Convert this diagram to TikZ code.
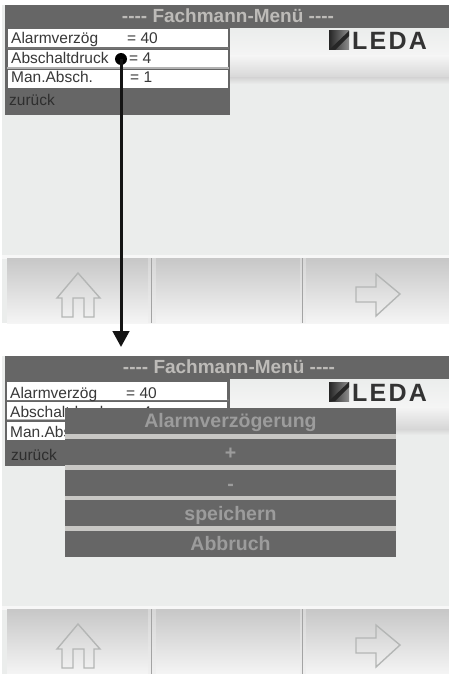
\documentclass[tikz,border=0pt]{standalone}
\usepackage{fontspec}
\setmainfont{Liberation Sans}
\usetikzlibrary{arrows.meta,calc}
\definecolor{bar}{HTML}{666666}
\definecolor{screen}{HTML}{EBEDEC}
\definecolor{titletxt}{HTML}{BDBBB8}
\definecolor{dlgtxt}{HTML}{9C9C9C}
\definecolor{sep}{HTML}{C8C7C4}
\definecolor{icon}{HTML}{B4B6B5}
\tikzset{
  x=1pt,y=-1pt,
  lbl/.style={inner sep=0pt,anchor=base west,font=\fontsize{15.5}{15.5}\selectfont,text=black!78},
  titlelbl/.style={inner sep=0pt,anchor=base,font=\bfseries\fontsize{19}{19}\selectfont,text=titletxt},
  dlgrow/.style={inner sep=0pt,anchor=north west,minimum width=331pt,minimum height=26pt,fill=bar},
  dlglbl/.style={inner sep=0pt,anchor=base,font=\bfseries\fontsize{19.5}{19.5}\selectfont,text=dlgtxt},
  whiterow/.style={inner sep=0pt,anchor=north west,minimum width=220pt,minimum height=18pt,fill=white},
  iconline/.style={draw=icon,line width=1.4pt,line join=miter,fill=none},
  conn/.style={draw=black!92,line width=3pt},
}
\newcommand{\screenbg}[1]{%
  \begin{scope}[yshift=-#1pt]
    \fill[screen] (2,5) rectangle (449,323);
    % upper band behind the logo
    \shade[top color=screen,bottom color=white!96!black] (7,28) rectangle (449,56);
    \shade[top color=white!96!black,bottom color=black!16] (7,56) rectangle (449,78);
    \shade[top color=black!16,bottom color=screen] (7,78) rectangle (449,84);
    % footer
    \fill[white!97!black] (2,255) rectangle (449,259);
    \shade[top color=black!22,bottom color=black!4] (7,258) rectangle (449,323);
    \fill[white!92!black,opacity=.45] (148,258) rectangle (156,323);
    \fill[white!92!black,opacity=.45] (300,258) rectangle (306,323);
    \fill[black!36] (150.5,258) rectangle (152,323);
    \fill[black!36] (301.5,258) rectangle (303,323);
    % house
    \path[iconline] (78,273) -- (100,298) -- (94,298) -- (94,317) -- (84,317) -- (84,298)
      -- (73,298) -- (73,317) -- (62,317) -- (62,298) -- (57,298) -- cycle;
    % arrow
    \path[iconline] (356,287) -- (376,287) -- (376,274) -- (400,294) -- (376,316)
      -- (376,302) -- (356,302) -- cycle;
    % logo
    \shade[shading angle=45,left color=black!85,right color=black!45] (329,31) rectangle (349,50);
    \fill[black!85] (329,50) -- (349,31) -- (349,36) -- (335,50) -- cycle;
    \node[inner sep=0pt,anchor=base west,font=\bfseries\fontsize{25}{25}\selectfont,text=black!80] (logo#1) at (352,50) {L\kern2.2pt E\kern2.2pt D\kern2.2pt A};
    % top bar
    \fill[bar] (5,5) rectangle (449,28);
    % menu panel
    \fill[bar] (5,28) rectangle (230,115);
    \fill[black!55] (7,47.5) rectangle (229,49.5);
    \fill[black!30] (7,67) rectangle (229,69);
  \end{scope}}
\newcommand{\dashes}{{-}{-}{-}{-}}
\begin{document}
\begin{tikzpicture}
\useasboundingbox (0,0) rectangle (449,674);
\fill[white] (0,0) rectangle (449,674);

% ---------- first screen
\screenbg{0}
\node[titlelbl] (t1) at (228,22.5) {\dashes{} Fachmann-Menü \dashes};
\node[whiterow] (r1a) at (8,29) {};
\node[whiterow,minimum height=17pt] (r1b) at (8,50) {};
\node[whiterow] (r1c) at (8,69.5) {};
\node[lbl] (l1a) at (11,44) {Alarmverzög};
\node[lbl] (v1a) at (127,44) {= 40};
\node[lbl] (l1b) at (11,64) {Abschaltdruck};
\node[lbl] (v1b) at (129,64) {= 4};
\node[lbl] (l1c) at (11,83) {Man.Absch.};
\node[lbl] (v1c) at (130,83) {= 1};
\node[lbl,text=black!82] (l1d) at (9,106) {zurück};

% ---------- second screen
\screenbg{351}
\node[titlelbl] (t2) at (229,373.5) {\dashes{} Fachmann-Menü \dashes};
\node[whiterow] (r2a) at (7,382) {};
\node[whiterow,minimum height=17pt] (r2b) at (7,402) {};
\node[whiterow] (r2c) at (7,421.5) {};
\node[lbl] (l2a) at (10,398) {Alarmverzög};
\node[lbl] (v2a) at (126,398) {= 40};
\node[lbl] (l2b) at (10,417) {Abschaltdruck};
\node[lbl] (v2b) at (129,417) {= 4};
\node[lbl] (l2c) at (10,437) {Man.Abs};
\node[lbl,text=black!82] (l2d) at (11,460) {zurück};

% dialog
\fill[sep] (65,408) rectangle (396,557);
\node[dlgrow] (d1) at (65,408) {};
\node[dlgrow] (d2) at (65,439) {};
\node[dlgrow] (d3) at (65,470) {};
\node[dlgrow] (d4) at (65,500) {};
\node[dlgrow] (d5) at (65,531) {};
\node[dlglbl] at (230.5,427) {Alarmverzögerung};
\node[dlglbl] at (230.5,459) {+};
\node[dlglbl] at (230.5,490) {-};
\node[dlglbl] at (230.5,520) {speichern};
\node[dlglbl] at (230.5,550) {Abbruch};

% connector
\node[circle,fill=black,inner sep=0pt,minimum size=12pt] (dot) at (121,59) {};
\coordinate (tip) at (121,347);
\draw[conn,-{Triangle[width=16.5pt,length=16pt]}] (dot.center) -- (tip);
\end{tikzpicture}
\end{document}
